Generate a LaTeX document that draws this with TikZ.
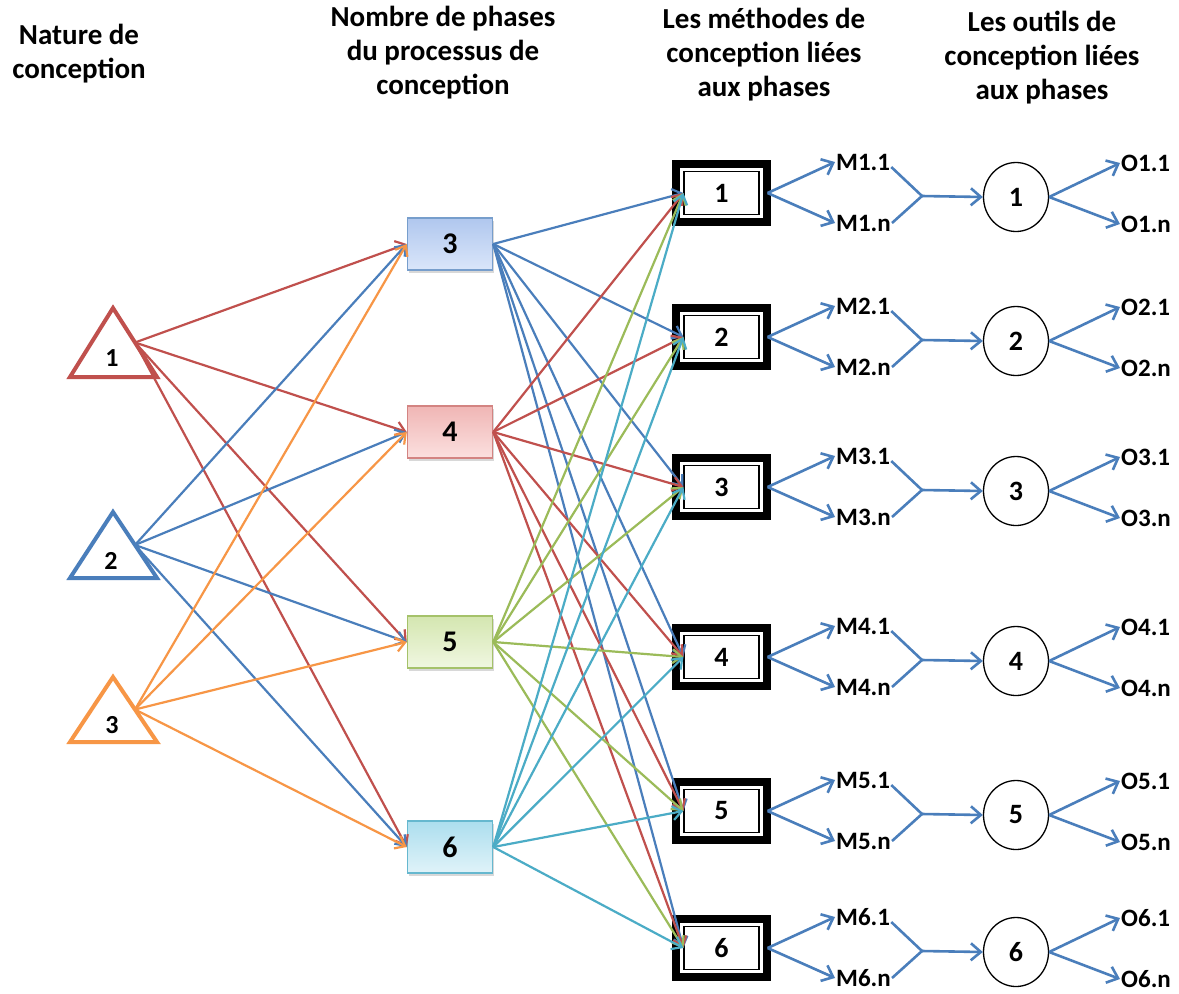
\documentclass[tikz,border=0pt]{standalone}
\usepackage{fontspec}
\setmainfont{Carlito}
\usetikzlibrary{arrows.meta,shadows,shapes.geometric}
\definecolor{cred}{HTML}{C0504D}
\definecolor{cblue}{HTML}{4A7EBB}
\definecolor{cgreen}{HTML}{9BBB59}
\definecolor{ccyan}{HTML}{4BACC6}
\definecolor{corange}{HTML}{F79646}
\begin{document}
\begin{tikzpicture}[x=1pt,y=1pt,
  hdr/.style={align=center,font=\bfseries\fontsize{29}{34}\selectfont},
  phbox/.style={rectangle, minimum width=85, minimum height=52, line width=1.5,
    font=\bfseries\fontsize{30}{30}\selectfont,
    drop shadow={shadow xshift=1pt,shadow yshift=-3pt,opacity=0.3}},
  mbox/.style={rectangle, draw, line width=1.2, minimum width=75, minimum height=43,
    inner sep=0, fill=white, font=\bfseries\fontsize{28}{28}\selectfont},
  circ/.style={ellipse, draw, line width=1.3, minimum width=65, minimum height=69,
    inner sep=0, font=\bfseries\fontsize{28}{28}\selectfont},
  lab/.style={anchor=west, inner sep=1pt, font=\bfseries\fontsize{25}{25}\selectfont},
  tlab/.style={inner sep=0, font=\bfseries\fontsize{26}{26}\selectfont},
  tri/.style={line width=4, fill=white, line join=miter},
  conn/.style={draw=cblue, line width=2.6, -{Straight Barb[length=10pt,width=17pt]}},
  bra/.style={draw=cblue, line width=2.6},
  lnr/.style={draw=cred, line width=2.2, -{Straight Barb[length=9pt,width=14pt]}},
  lnb/.style={draw=cblue, line width=2.2, -{Straight Barb[length=9pt,width=14pt]}},
  lng/.style={draw=cgreen, line width=2.2, -{Straight Barb[length=9pt,width=14pt]}},
  lnc/.style={draw=ccyan, line width=2.2, -{Straight Barb[length=9pt,width=14pt]}},
  lno/.style={draw=corange, line width=2.2, -{Straight Barb[length=9pt,width=14pt]}}
]
\useasboundingbox[fill=white] (0,0) rectangle (1179,-994);

% headers
\node[hdr] (h1) at (79,-54) {Nature de\\conception};
\node[hdr] (h2) at (443,-53) {Nombre de phases\\du processus de\\conception};
\node[hdr] (h3) at (764,-55) {Les méthodes de\\conception liées\\aux phases};
\node[hdr] (h4) at (1042,-58) {Les outils de\\conception liées\\aux phases};

% triangles
\draw[tri, draw=cred] (113,-308) -- (157,-377) -- (70,-377) -- cycle;
\node[tlab] (n1) at (112,-358) {1};
\coordinate (t1) at (135,-342.5);
\draw[tri, draw=cblue] (113,-512) -- (157,-578) -- (70,-578) -- cycle;
\node[tlab] (n2) at (111,-561) {2};
\coordinate (t2) at (135,-545);
\draw[tri, draw=corange] (113,-677) -- (157,-742) -- (70,-742) -- cycle;
\node[tlab] (n3) at (112,-725) {3};
\coordinate (t3) at (135,-709.5);

% phase boxes
\node[phbox, draw=cblue!75, top color={rgb,255:red,176;green,199;blue,238}, bottom color={rgb,255:red,218;green,230;blue,250}] (p3) at (450,-244) {3};
\node[phbox, draw=cred!70, top color={rgb,255:red,240;green,182;blue,181}, bottom color={rgb,255:red,251;green,224;blue,223}] (p4) at (450,-432) {4};
\node[phbox, draw=cgreen!90, top color={rgb,255:red,212;green,230;blue,176}, bottom color={rgb,255:red,240;green,247;blue,225}] (p5) at (450,-642) {5};
\node[phbox, draw=ccyan!85, top color={rgb,255:red,172;green,222;blue,238}, bottom color={rgb,255:red,224;green,243;blue,249}] (p6) at (450,-847) {6};

% method rows
\foreach \i/\y in {1/193,2/337,3/487,4/657,5/811,6/948}{
  \node[mbox] (m\i) at (721.5,-\y) {\i};
  \draw[line width=8] ([shift={(-7pt,7pt)}]m\i.north west) rectangle ([shift={(7pt,-7pt)}]m\i.south east);
  \node[lab] (ma\i) at (835,{-\y+31}) {M\i.1};
  \node[lab] (mb\i) at (835,{-\y-30}) {M\i.n};
  \coordinate (v\i) at (922,{-\y-3});
  \node[circ] (c\i) at (1016,{-\y-4}) {\i};
  \node[lab] (oa\i) at (1120,{-\y+30}) {O\i.1};
  \node[lab] (ob\i) at (1120,{-\y-31}) {O\i.n};
  \draw[conn] ([xshift=8pt]m\i.east) -- (ma\i.west);
  \draw[conn] ([xshift=8pt]m\i.east) -- (mb\i.west);
  \draw[bra] ([yshift=-5pt]ma\i.east) -- (v\i) -- (mb\i.east);
  \draw[conn] (v\i) -- (c\i.west);
  \draw[conn] (c\i.east) -- (oa\i.west);
  \draw[conn] (c\i.east) -- (ob\i.west);
}

% triangle -> phase connectors
\foreach \t/\c in {1/lnr,2/lnb,3/lno}{
  \foreach \p in {3,4,5,6}{
    \draw[\c] (t\t) -- (p\p.west);
  }
}

% phase -> method connectors
\foreach \p/\c in {3/lnb,4/lnr,5/lng,6/lnc}{
  \foreach \i in {1,...,6}{
    \draw[\c] (p\p.east) -- (m\i.west);
  }
}
\end{tikzpicture}
\end{document}
